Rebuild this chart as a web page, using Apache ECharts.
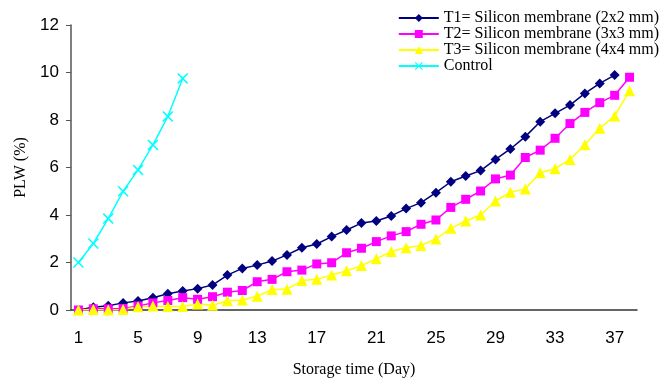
<!DOCTYPE html>
<html><head><meta charset="utf-8">
<script src="https://cdn.jsdelivr.net/npm/echarts@6/dist/echarts.min.js"></script>
<style>html,body{margin:0;padding:0;background:#fff}#c{width:667px;height:378px}</style>
</head><body><div id="c"></div>
<script>
var days = [];
for (var d = 1; d <= 38; d++) days.push(String(d));
var t1 = [0, 0.12, 0.18, 0.3, 0.38, 0.52, 0.68, 0.8, 0.9, 1.05, 1.47, 1.75, 1.89, 2.06, 2.32, 2.62, 2.78, 3.09, 3.37, 3.66, 3.75, 3.96, 4.27, 4.52, 4.94, 5.4, 5.64, 5.87, 6.34, 6.78, 7.3, 7.93, 8.28, 8.63, 9.12, 9.54, 9.89];
var t2 = [0, 0.05, 0.05, 0.06, 0.17, 0.3, 0.4, 0.52, 0.45, 0.56, 0.75, 0.82, 1.19, 1.29, 1.61, 1.68, 1.94, 1.99, 2.41, 2.6, 2.88, 3.12, 3.3, 3.61, 3.79, 4.32, 4.66, 5.01, 5.52, 5.68, 6.42, 6.73, 7.23, 7.85, 8.32, 8.73, 9.04, 9.8];
var t3 = [0, 0.02, 0, 0.02, 0.14, 0.17, 0.15, 0.15, 0.25, 0.2, 0.39, 0.42, 0.58, 0.86, 0.87, 1.24, 1.29, 1.47, 1.65, 1.87, 2.16, 2.46, 2.62, 2.72, 2.99, 3.44, 3.75, 4.0, 4.59, 4.96, 5.1, 5.78, 5.95, 6.34, 6.96, 7.65, 8.17, 9.23];
var control = [2.0, 2.8, 3.85, 5.0, 5.9, 6.95, 8.15, 9.75];
var names = ['T1= Silicon membrane (2x2 mm)', 'T2= Silicon membrane (3x3 mm)', 'T3= Silicon membrane (4x4 mm)', 'Control'];
var crossPath = 'path://M0,1L1,0L5,4L9,0L10,1L6,5L10,9L9,10L5,6L1,10L0,9L4,5Z';

var chart = echarts.init(document.getElementById('c'), null, {renderer: 'canvas'});
function ser(name, data, color, symbol, size) {
  return {
    name: name, type: 'line', data: data, symbol: symbol, symbolSize: size,
    showAllSymbol: true,
    lineStyle: {color: color, width: 1.5},
    itemStyle: {color: color},
    animation: false
  };
}
chart.setOption({
  animation: false,
  grid: {left: 71, right: 30, top: 25, bottom: 68, containLabel: false, outerBoundsMode: 'none'},
  legend: {
    orient: 'vertical', right: 8, top: 10, itemGap: 0, itemWidth: 40, itemHeight: 10,
    padding: 0,
    textStyle: {fontFamily: 'Liberation Serif', fontSize: 16, lineHeight: 15, color: '#000'},
    data: names
  },
  xAxis: {
    type: 'category', data: days, boundaryGap: true,
    name: 'Storage time (Day)', nameLocation: 'middle', nameGap: 52,
    nameTextStyle: {fontFamily: 'Liberation Serif', fontSize: 16, color: '#000'},
    axisLine: {lineStyle: {color: '#333', width: 1.5}},
    axisTick: {show: false},
    axisLabel: {interval: 3, margin: 20, fontFamily: 'Liberation Sans', fontSize: 17, color: '#000'}
  },
  yAxis: {
    type: 'value', min: 0, max: 12, interval: 2,
    name: 'PLW (%)', nameLocation: 'middle', nameGap: 40,
    nameTextStyle: {fontFamily: 'Liberation Serif', fontSize: 16, color: '#000'},
    axisLine: {show: true, lineStyle: {color: '#555', width: 1.5}},
    axisTick: {show: true, length: 5, lineStyle: {color: '#555'}},
    splitLine: {show: false},
    axisLabel: {margin: 12, fontFamily: 'Liberation Sans', fontSize: 17, color: '#000'}
  },
  series: [
    ser(names[0], t1, '#000080', 'diamond', 10),
    ser(names[1], t2, '#FF00FF', 'rect', 9),
    ser(names[2], t3, '#FFFF00', 'triangle', 11),
    ser(names[3], control, '#00FFFF', crossPath, 11)
  ]
});
</script></body></html>
